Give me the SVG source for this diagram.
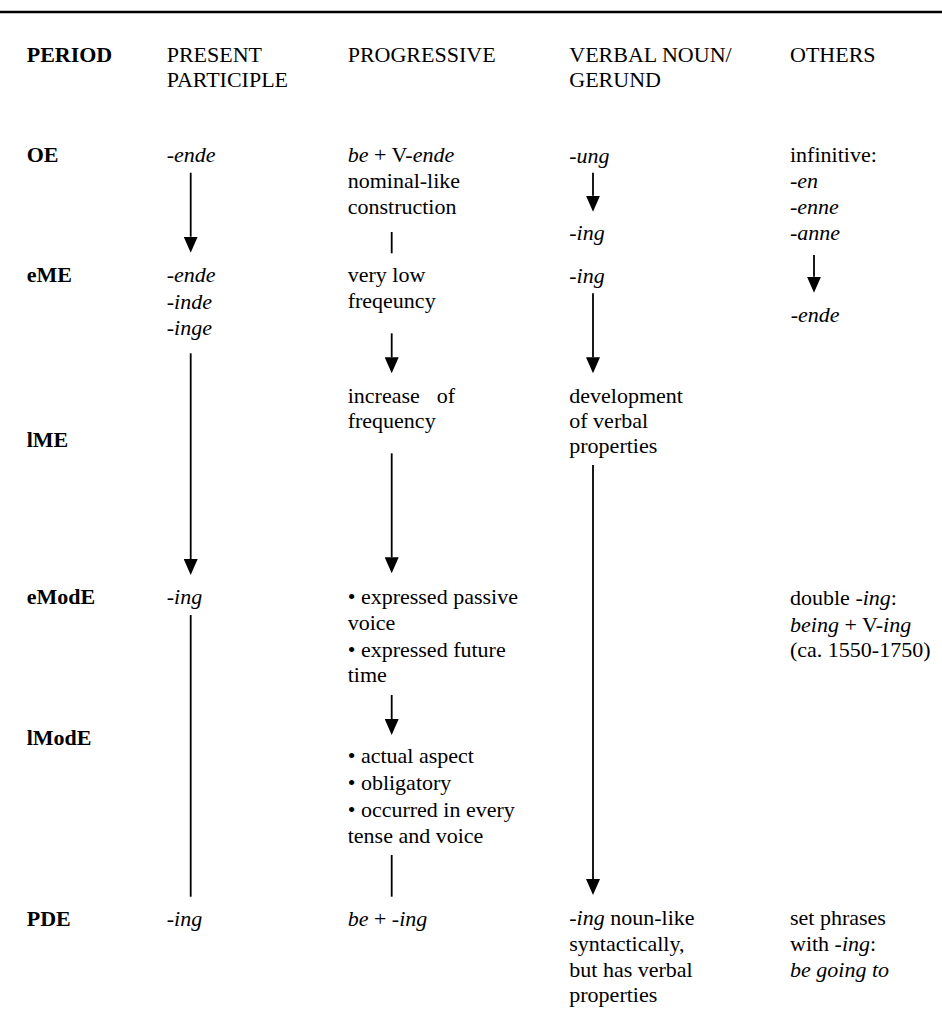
<svg xmlns="http://www.w3.org/2000/svg" width="942" height="1029" viewBox="0 0 942 1029">
<style>
.ln{stroke:#000;stroke-width:1.8;fill:none}
</style>
<defs>
<marker id="ah" markerUnits="userSpaceOnUse" markerWidth="16" markerHeight="14" viewBox="0 0 16 14" refX="0" refY="7" orient="auto">
<path d="M0,0 L16,7 L0,14 z" fill="#000"/>
</marker>
</defs>
<rect width="942" height="1029" fill="#fff"/>
<line x1="0" y1="12" x2="942" y2="12" stroke="#000" stroke-width="2.5"/>
<g font-family="Liberation Serif" font-size="22" fill="#000">
<g id="header">
<text font-weight="bold" x="26.7" y="61.7">PERIOD</text>
<text x="166.7" y="61.7">PRESENT</text>
<text x="166.7" y="87.3">PARTICIPLE</text>
<text x="347.7" y="61.7">PROGRESSIVE</text>
<text x="569.3" y="61.7">VERBAL NOUN/</text>
<text x="569.3" y="87.3">GERUND</text>
<text x="790" y="61.7">OTHERS</text>
</g>

<g id="periods" font-weight="bold">
<text x="26.7" y="162">OE</text>
<text x="26.7" y="282">eME</text>
<text x="26.7" y="447">lME</text>
<text x="26.7" y="603.5">eModE</text>
<text x="26.7" y="745">lModE</text>
<text x="26.7" y="926">PDE</text>
</g>

<g id="pp-oe"><text font-style="italic" x="166.7" y="162">-ende</text></g>
<g id="pp-eme">
<text x="166.7" y="282">-<tspan font-style="italic">ende</tspan></text>
<text x="166.7" y="308.5">-<tspan font-style="italic">inde</tspan></text>
<text x="166.7" y="335">-<tspan font-style="italic">inge</tspan></text>
</g>
<g id="pp-emode"><text x="166.7" y="603.5">-<tspan font-style="italic">ing</tspan></text></g>
<g id="pp-pde"><text font-style="italic" x="166.7" y="926">-ing</text></g>

<g id="prog-oe">
<text x="347.7" y="162"><tspan font-style="italic">be</tspan> + V-<tspan font-style="italic">ende</tspan></text>
<text x="347.7" y="188">nominal-like</text>
<text x="347.7" y="214">construction</text>
</g>
<g id="prog-eme">
<text x="347.7" y="282">very low</text>
<text x="347.7" y="308.3">freqeuncy</text>
</g>
<g id="prog-inc">
<text x="347.7" y="402.7">increase</text>
<text x="436.7" y="402.7">of</text>
<text x="347.7" y="428.3">frequency</text>
</g>
<g id="prog-emode">
<text x="347.7" y="603.5">• expressed passive</text>
<text x="347.7" y="630">voice</text>
<text x="347.7" y="656.7">• expressed future</text>
<text x="347.7" y="681.7">time</text>
</g>
<g id="prog-lmode">
<text x="347.7" y="763.3">• actual aspect</text>
<text x="347.7" y="790">• obligatory</text>
<text x="347.7" y="816.7">• occurred in every</text>
<text x="347.7" y="843.3">tense and voice</text>
</g>
<g id="prog-pde"><text x="347.7" y="926"><tspan font-style="italic">be</tspan> + -<tspan font-style="italic">ing</tspan></text></g>

<g id="vn-oe"><text font-style="italic" x="569.3" y="162.5">-ung</text></g>
<g id="vn-oe2"><text font-style="italic" x="569.3" y="240">-ing</text></g>
<g id="vn-eme"><text font-style="italic" x="569.3" y="282.5">-ing</text></g>
<g id="vn-dev">
<text x="569.3" y="402.7">development</text>
<text x="569.3" y="428.3">of verbal</text>
<text x="569.3" y="453.3">properties</text>
</g>
<g id="vn-pde">
<text x="569.3" y="925"><tspan font-style="italic">-ing</tspan> noun-like</text>
<text x="569.3" y="950.5">syntactically,</text>
<text x="569.3" y="976.7">but has verbal</text>
<text x="569.3" y="1001.7">properties</text>
</g>

<g id="oth-oe">
<text x="790" y="162">infinitive:</text>
<text font-style="italic" x="790" y="188">-en</text>
<text font-style="italic" x="790" y="214">-enne</text>
<text font-style="italic" x="790" y="239.5">-anne</text>
</g>
<g id="oth-eme"><text font-style="italic" x="790.7" y="321.7">-ende</text></g>
<g id="oth-emode">
<text x="790" y="605">double -<tspan font-style="italic">ing</tspan>:</text>
<text x="790" y="631.7"><tspan font-style="italic">being</tspan> + V-<tspan font-style="italic">ing</tspan></text>
<text x="790" y="656.7">(ca. 1550-1750)</text>
</g>
<g id="oth-pde">
<text x="790" y="925">set phrases</text>
<text x="790" y="950.5">with -<tspan font-style="italic">ing</tspan>:</text>
<text font-style="italic" x="790" y="976.7">be going to</text>
</g>
</g>
<g id="connectors">
<line class="ln" x1="190.7" y1="172.7" x2="190.7" y2="236.7" marker-end="url(#ah)"/>
<line class="ln" x1="190.7" y1="353.3" x2="190.7" y2="559" marker-end="url(#ah)"/>
<line class="ln" x1="190.7" y1="615" x2="190.7" y2="896.7"/>
<line class="ln" x1="391.7" y1="232" x2="391.7" y2="253.3"/>
<line class="ln" x1="391.7" y1="333.3" x2="391.7" y2="357.3" marker-end="url(#ah)"/>
<line class="ln" x1="391.7" y1="453.3" x2="391.7" y2="557.3" marker-end="url(#ah)"/>
<line class="ln" x1="391.7" y1="695" x2="391.7" y2="719" marker-end="url(#ah)"/>
<line class="ln" x1="391.7" y1="855" x2="391.7" y2="896.7"/>
<line class="ln" x1="593" y1="172.7" x2="593" y2="195.7" marker-end="url(#ah)"/>
<line class="ln" x1="593" y1="293.3" x2="593" y2="357.3" marker-end="url(#ah)"/>
<line class="ln" x1="593" y1="465" x2="593" y2="879" marker-end="url(#ah)"/>
<line class="ln" x1="814" y1="255" x2="814" y2="276.7" marker-end="url(#ah)"/>
</g>
</svg>
